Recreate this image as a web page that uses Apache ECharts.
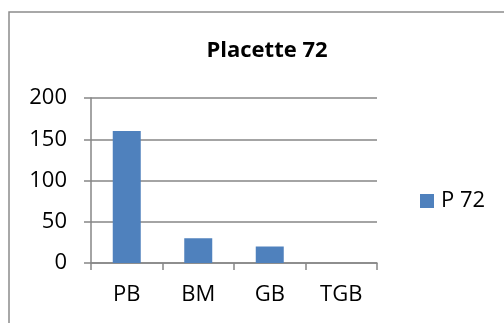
<!DOCTYPE html>
<html>
<head>
<meta charset="utf-8">
<script src="https://cdn.jsdelivr.net/npm/echarts@6/dist/echarts.min.js"></script>
<style>
html,body{margin:0;padding:0;background:#fff;}
#main{width:504px;height:323px;}
</style>
</head>
<body>
<div id="main"></div>
<script>
var categories = ['PB', 'BM', 'GB', 'TGB'];
var seriesName = 'P 72';
var values = [160, 30, 20, 0];
var titleText = 'Placette 72';
var yMin = 0, yMax = 200, yInterval = 50;

var chart = echarts.init(document.getElementById('main'), null, {renderer: 'canvas'});
var font = 'Open Sans';
var gridColor = '#868686';
chart.setOption({
  animation: false,
  backgroundColor: '#ffffff',
  graphic: [{
    type: 'rect',
    shape: {x: 9, y: 12, width: 520, height: 340},
    style: {fill: 'none', stroke: '#8c8c8c', lineWidth: 1.5},
    silent: true
  }],
  title: {
    text: titleText,
    left: 262,
    top: 35,
    textAlign: 'center',
    textStyle: {fontFamily: font, fontWeight: 'bold', fontSize: 22, color: '#000'}
  },
  legend: {
    data: [seriesName],
    left: 420,
    top: 190,
    padding: 0,
    itemWidth: 14,
    itemHeight: 14,
    icon: 'rect',
    textStyle: {fontFamily: font, fontSize: 22, color: '#000', padding: [0, 0, 0, 2]}
  },
  grid: {left: 91, right: 127, top: 98, bottom: 60, containLabel: false},
  xAxis: {
    type: 'category',
    data: categories,
    axisLine: {lineStyle: {color: gridColor, width: 1.5}},
    axisTick: {show: true, length: 7, alignWithLabel: false, lineStyle: {color: gridColor, width: 1.5}},
    axisLabel: {fontFamily: font, fontSize: 22, color: '#000', margin: 21},
    splitLine: {show: false}
  },
  yAxis: {
    type: 'value',
    min: yMin,
    max: yMax,
    interval: yInterval,
    axisLine: {show: true, lineStyle: {color: gridColor, width: 1.5}},
    axisTick: {show: true, length: 7, lineStyle: {color: gridColor, width: 1.5}},
    axisLabel: {fontFamily: font, fontSize: 22, color: '#000', margin: 24},
    splitLine: {show: true, lineStyle: {color: gridColor, width: 1.5}}
  },
  series: [{
    name: seriesName,
    type: 'bar',
    data: values,
    barWidth: 28,
    itemStyle: {color: '#4F81BD'}
  }]
});
</script>
</body>
</html>
